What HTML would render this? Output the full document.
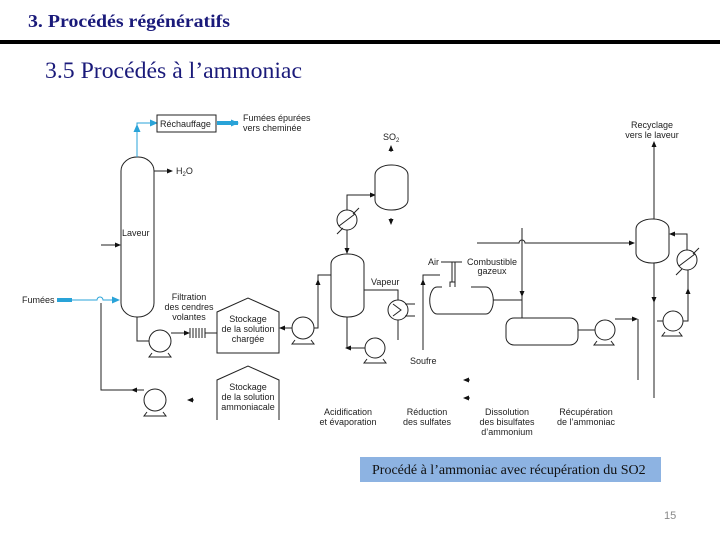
<!DOCTYPE html>
<html><head><meta charset="utf-8"><style>
body{margin:0;width:720px;height:540px;background:#fff;overflow:hidden;position:relative}
svg{position:absolute;left:0;top:0}
</style></head><body>
<svg width="720" height="540" viewBox="0 0 720 540" xmlns="http://www.w3.org/2000/svg">
<defs>
<marker id="a" markerWidth="6" markerHeight="6" refX="5" refY="3" orient="auto" markerUnits="userSpaceOnUse"><path d="M0,0.5 L6,3 L0,5.5z" fill="#111"/></marker>
<marker id="b" markerWidth="8" markerHeight="8" refX="7" refY="4" orient="auto" markerUnits="userSpaceOnUse"><path d="M0,0.5 L8,4 L0,7.5z" fill="#29a3d8"/></marker>
</defs>
<text x="28" y="27" font-family="Liberation Serif" font-weight="bold" font-size="18" fill="#1a1a7a" textLength="202" lengthAdjust="spacingAndGlyphs">3. Procédés régénératifs</text>
<rect x="0" y="40" width="720" height="4" fill="#000"/>
<text x="45" y="78" font-family="Liberation Serif" font-size="23" fill="#1a1a7a" textLength="257" lengthAdjust="spacingAndGlyphs">3.5 Procédés à l’ammoniac</text>

<g fill="none" stroke="#222" stroke-width="1" font-family="Liberation Sans">
<rect x="121" y="157" width="33" height="160" rx="16" ry="14" fill="#fff"/>
<path d="M137,157 V123 H157" stroke="#29a3d8" marker-end="url(#b)"/>
<path d="M137,150 V125" stroke="#29a3d8" marker-end="url(#b)"/>
<rect x="157" y="115" width="59" height="17"/>
<path d="M217,123 H238" stroke="#29a3d8" stroke-width="4" marker-end="url(#b)"/>
<path d="M57,300 H72" stroke="#29a3d8" stroke-width="4"/>
<path d="M72,300 H97 a3,3 0 0 1 6,0 H119" stroke="#29a3d8" marker-end="url(#b)"/>
<path d="M172,171 H154"/><path d="M166,171 H172" marker-end="url(#a)" />
<path d="M101,245 H120" marker-end="url(#a)"/>
<path d="M101,303 V390 H144"/><path d="M138,390 H132" marker-end="url(#a)"/>
<circle cx="155" cy="400" r="11" fill="#fff"/><path d="M147,412 l-3,4 h22 l-3,-4"/>
<path d="M194,400 H188" marker-end="url(#a)"/>
<path d="M137,317 V341 H150"/>
<circle cx="160" cy="341" r="11" fill="#fff"/><path d="M152,353 l-3,4 h22 l-3,-4"/>
<path d="M171,333 H189" marker-end="url(#a)"/>
<path d="M190,328v10M193,328v10M196,328v10M199,328v10M202,328v10M205,328v10"/>
<path d="M205,333 H217"/>
<path d="M217,353 V312 L248,298 L279,312 V353 Z" fill="#fff"/>
<path d="M217,420 V380 L248,366 L279,380 V420"/>
<path d="M292,328 H280" marker-end="url(#a)"/>
<circle cx="303" cy="328" r="11" fill="#fff"/><path d="M295,340 l-3,4 h22 l-3,-4"/>
<path d="M314,328 H318 V275 H331"/><path d="M318,290 V280" marker-end="url(#a)"/>
<rect x="331" y="254" width="33" height="63" rx="16" ry="10" fill="#fff"/>
<circle cx="347" cy="220" r="10" fill="#fff"/><path d="M339,226 L355,214 M337,234 l6,-6 M353,214 l6,-6"/>
<path d="M347,230 V253" marker-end="url(#a)"/>
<path d="M347,210 V195 H375" marker-end="url(#a)"/>
<rect x="375" y="165" width="33" height="45" rx="16" ry="10" fill="#fff"/>
<path d="M391,152 V146" marker-end="url(#a)"/>
<path d="M391,218 V224" marker-end="url(#a)"/>
<path d="M364,290 H398 V300"/>
<circle cx="398" cy="310" r="10" fill="#fff"/><path d="M393,304 l8,6 l-8,6"/>
<path d="M405,304 H415 M405,316 H415 M398,320 V340"/>
<path d="M347,317 V348 H365"/><path d="M352,348 H346" marker-end="url(#a)"/>
<circle cx="375" cy="348" r="10" fill="#fff"/><path d="M367,359 l-3,4 h22 l-3,-4"/>
<path d="M423,350 V275 H440"/><path d="M423,290 V280" marker-end="url(#a)"/>
<path d="M442,287 H437 a7,13 0 0 0 0,27 H486 a7,13 0 0 0 0,-27 H471"/>
<path d="M450,287 V282 H455 V287 M452,282 V262 M452,262 H441 M452,262 H462 M455,282 V262"/>
<path d="M493,300 H522"/>
<path d="M522,228 V318"/><path d="M522,290 V296" marker-end="url(#a)"/>
<path d="M477,243 H519 a3,3 0 0 1 6,0 H634" marker-end="url(#a)"/>
<rect x="506" y="318" width="72" height="27" rx="8" fill="#fff"/>
<path d="M578,330 H595"/>
<circle cx="605" cy="330" r="10" fill="#fff"/><path d="M597,341 l-3,4 h20 l-3,-4"/>
<path d="M615,319 H637" marker-end="url(#a)"/><path d="M638,319 V380"/>
<rect x="636" y="219" width="33" height="44" rx="16" ry="10" fill="#fff"/>
<path d="M654,219 V142" marker-end="url(#a)"/>
<path d="M654,263 V398"/><path d="M654,296 V302" marker-end="url(#a)"/>
<circle cx="687" cy="260" r="10" fill="#fff"/><path d="M679,266 L695,254 M676,275 l6,-6 M693,254 l6,-6"/>
<path d="M687,250 V234 H670" marker-end="url(#a)"/>
<circle cx="673" cy="321" r="10" fill="#fff"/><path d="M665,332 l-3,4 h20 l-3,-4"/>
<path d="M657,321 H663"/>
<path d="M683,321 H688 V270"/><path d="M688,295 V289" marker-end="url(#a)"/>
<path d="M470,380 H464" marker-end="url(#a)"/>
<path d="M470,398 H464" marker-end="url(#a)"/>
</g>

<g font-family="Liberation Sans" font-size="9" fill="#222">
<text x="160" y="127">Réchauffage</text>
<text x="243" y="121">Fumées épurées</text><text x="243" y="131">vers cheminée</text>
<text x="176" y="174">H<tspan font-size="6" dy="2">2</tspan><tspan dy="-2">O</tspan></text>
<text x="122" y="236">Laveur</text>
<text x="22" y="303">Fumées</text>
<g text-anchor="middle">
<text x="189" y="300">Filtration</text><text x="189" y="310">des cendres</text><text x="189" y="320">volantes</text>
<text x="248" y="322">Stockage</text><text x="248" y="332">de la solution</text><text x="248" y="342">chargée</text>
<text x="248" y="390">Stockage</text><text x="248" y="400">de la solution</text><text x="248" y="410">ammoniacale</text>
<text x="348" y="415">Acidification</text><text x="348" y="425">et évaporation</text>
<text x="427" y="415">Réduction</text><text x="427" y="425">des sulfates</text>
<text x="507" y="415">Dissolution</text><text x="507" y="425">des bisulfates</text><text x="507" y="435">d’ammonium</text>
<text x="586" y="415">Récupération</text><text x="586" y="425">de l’ammoniac</text>
<text x="652" y="128">Recyclage</text><text x="652" y="138">vers le laveur</text>
<text x="492" y="265">Combustible</text><text x="492" y="274">gazeux</text>
</g>
<text x="383" y="140">SO<tspan font-size="6" dy="2">2</tspan></text>
<text x="371" y="285">Vapeur</text>
<text x="410" y="364">Soufre</text>
<text x="428" y="265">Air</text>
</g>

<rect x="360" y="457" width="301" height="25" fill="#8db3e2"/>
<text x="372" y="474" font-family="Liberation Serif" font-size="14" fill="#111">Procédé à l’ammoniac avec récupération du SO2</text>
<text x="664" y="519" font-family="Liberation Sans" font-size="11" fill="#888">15</text>
</svg>
</body></html>
